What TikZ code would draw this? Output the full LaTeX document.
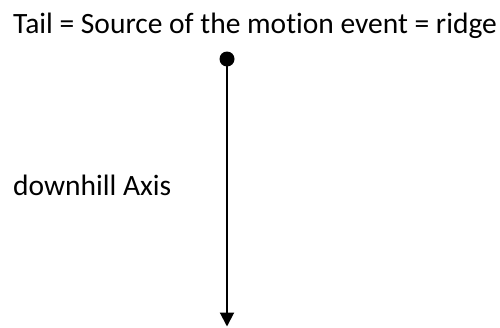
\documentclass[tikz,border=0pt]{standalone}
\usepackage{fontspec}
\setmainfont{Carlito}[Ligatures=NoCommon]
\usetikzlibrary{arrows.meta}
\begin{document}
\begin{tikzpicture}[x=1pt,y=-1pt,
  lbl/.style={anchor=base west,inner sep=0pt,font=\fontsize{29.5}{35}\selectfont},
  dotnode/.style={circle,fill=black,inner sep=0pt,minimum size=15pt},
  axis/.style={line width=2pt,-{Triangle[width=14pt,length=14pt]}}]
\useasboundingbox (0,0) rectangle (500,327);
\node[lbl] (title) at (13,33) {Tail = Source of the motion event = ridge};
\node[lbl] (axlbl) at (13,195) {downhill Axis};
\node[dotnode] (tail) at (227,59) {};
\coordinate (head) at (227,326.5);
\draw[axis] (tail.center) -- (head);
\end{tikzpicture}
\end{document}
